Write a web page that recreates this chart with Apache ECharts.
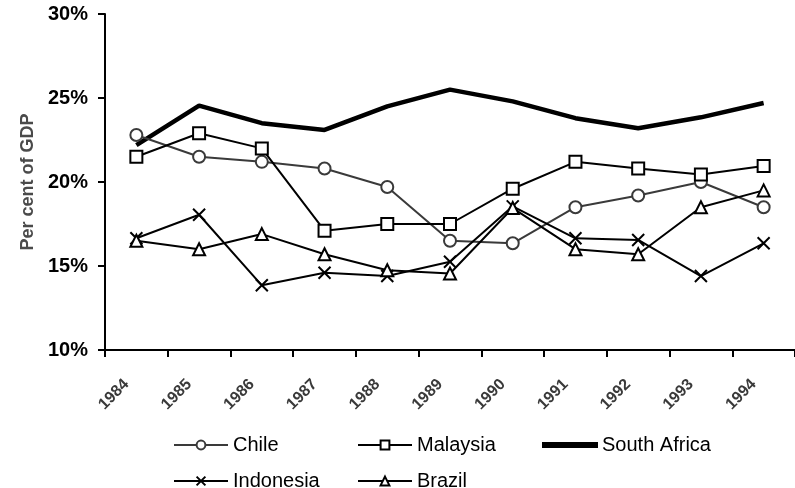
<!DOCTYPE html>
<html><head><meta charset="utf-8">
<script src="https://cdn.jsdelivr.net/npm/echarts@6/dist/echarts.min.js"></script>
<style>html,body{margin:0;padding:0;background:#fff}#c{width:795px;height:488px}</style>
</head><body><div id="c"></div>
<script>
var years = ['1984','1985','1986','1987','1988','1989','1990','1991','1992','1993','1994'];
var chile = [22.8, 21.5, 21.2, 20.8, 19.7, 16.5, 16.35, 18.5, 19.2, 20.0, 18.5];
var malaysia = [21.5, 22.9, 22.0, 17.1, 17.5, 17.5, 19.6, 21.2, 20.8, 20.45, 20.95];
var southAfrica = [22.2, 24.55, 23.5, 23.1, 24.5, 25.5, 24.8, 23.8, 23.2, 23.85, 24.7];
var indonesia = [16.65, 18.05, 13.85, 14.6, 14.4, 15.25, 18.55, 16.65, 16.55, 14.4, 16.35];
var brazil = [16.5, 16.0, 16.9, 15.7, 14.75, 14.55, 18.45, 16.0, 15.7, 18.5, 19.5];
var yTicks = [10, 15, 20, 25, 30];

var FONT = '"Liberation Sans", Arial, sans-serif';
var X_PATH = 'path://M0,0L10,10M10,0L0,10';

function mkSeries(name, data, symbol, color, width, z) {
  return {
    name: name, type: 'line', data: data,
    symbol: symbol, symbolSize: symbol === 'none' ? 0 : 12,
    showAllSymbol: true,
    lineStyle: {color: color, width: width},
    itemStyle: {color: color, borderColor: color, borderWidth: 2},
    z: z, animation: false
  };
}
function mkLegend(name, left, top, extra) {
  var l = {
    data: [name], left: left, top: top, itemWidth: 54, itemHeight: 11,
    textStyle: {fontFamily: FONT, fontSize: 20, color: '#000'},
    selectedMode: false
  };
  if (extra) { for (var k in extra) l[k] = extra[k]; }
  return l;
}

var chart = echarts.init(document.getElementById('c'), null, {renderer: 'canvas'});
chart.setOption({
  backgroundColor: '#fff',
  animation: false,
  grid: {left: 105, top: 14, width: 696, height: 336, containLabel: false},
  legend: [
    mkLegend('Chile', 168, 430),
    mkLegend('Malaysia', 352, 430),
    mkLegend('South Africa', 537, 430, {data: [{name: 'South Africa', icon: 'rect', itemStyle: {color: '#000'}}], itemHeight: 4}),
    mkLegend('Indonesia', 168, 466),
    mkLegend('Brazil', 352, 466)
  ],
  xAxis: {
    type: 'category', data: years, boundaryGap: true,
    axisLine: {lineStyle: {color: '#000', width: 2}},
    axisTick: {show: true, interval: 0, length: 7, lineStyle: {color: '#000', width: 2}},
    axisLabel: {interval: 0, rotate: 45, margin: 22, padding: [0, 14, 0, 0], fontFamily: FONT, fontSize: 16, fontWeight: 'bold', color: '#3a3a3a'},
    splitLine: {show: false}
  },
  yAxis: {
    type: 'value', min: yTicks[0], max: yTicks[yTicks.length - 1], interval: 5,
    name: 'Per cent of GDP', nameLocation: 'middle', nameGap: 68, nameRotate: 90,
    nameTextStyle: {fontFamily: FONT, fontSize: 18, fontWeight: 'bold', color: '#4a4a4a'},
    axisLine: {show: true, lineStyle: {color: '#000', width: 2}},
    axisTick: {show: true, length: 7, lineStyle: {color: '#000', width: 2}},
    axisLabel: {formatter: '{value}%', margin: 17, padding: [6, 0, 0, 0], fontFamily: FONT, fontSize: 20, fontWeight: 'bold', color: '#000'},
    splitLine: {show: false}
  },
  series: [
    mkSeries('Chile', chile, 'emptyCircle', '#3a3a3a', 2, 3),
    mkSeries('Malaysia', malaysia, 'emptyRect', '#000', 2, 3),
    mkSeries('South Africa', southAfrica, 'none', '#000', 4.5, 2),
    mkSeries('Indonesia', indonesia, X_PATH, '#000', 2, 4),
    mkSeries('Brazil', brazil, 'emptyTriangle', '#000', 2, 4)
  ]
});
</script></body></html>
